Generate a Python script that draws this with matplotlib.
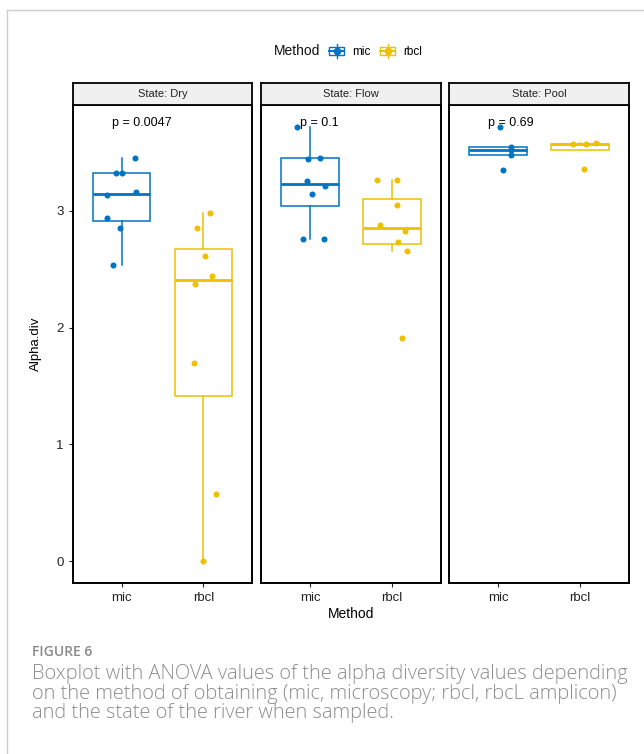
import matplotlib
matplotlib.use("Agg")
import matplotlib.pyplot as plt
from matplotlib.lines import Line2D
from matplotlib.patches import Rectangle
from matplotlib.legend_handler import HandlerBase

plt.rcParams['font.family'] = ['Liberation Sans', 'DejaVu Sans']

# --- data ---
states = ["Dry", "Flow", "Pool"]
methods = ["mic", "rbcl"]
p_labels = ["p = 0.0047", "p = 0.1", "p = 0.69"]

dry_mic = [3.447, 3.325, 3.325, 3.134, 3.157, 2.935, 2.849, 2.531]
dry_rbcl = [2.98, 2.855, 2.61, 2.442, 2.371, 1.697, 0.572, 0.0]
flow_mic = [3.718, 3.444, 3.453, 3.251, 3.211, 3.14, 2.756, 2.756]
flow_rbcl = [3.265, 3.265, 3.049, 2.878, 2.824, 2.736, 2.656, 1.91]
pool_mic = [3.715, 3.545, 3.52, 3.48, 3.348]
pool_rbcl = [3.572, 3.572, 3.575, 3.36]

# horizontal jitter of the points (as drawn)
dry_mic_jit = [0.164, -0.068, 0.008, -0.176, 0.18, -0.176, -0.016, -0.1]
dry_rbcl_jit = [0.08, -0.076, 0.016, 0.104, -0.108, -0.112, 0.156, -0.008]
flow_mic_jit = [-0.159, -0.02, 0.118, -0.037, 0.179, 0.028, -0.085, 0.175]
flow_rbcl_jit = [-0.187, 0.061, 0.061, -0.142, 0.159, 0.077, 0.187, 0.118]
pool_mic_jit = [0.02, 0.154, 0.154, 0.154, 0.065]
pool_rbcl_jit = [-0.081, 0.077, 0.195, 0.049]

values = {
    "Dry": [dry_mic, dry_rbcl],
    "Flow": [flow_mic, flow_rbcl],
    "Pool": [pool_mic, pool_rbcl],
}
jitter = {
    "Dry": [dry_mic_jit, dry_rbcl_jit],
    "Flow": [flow_mic_jit, flow_rbcl_jit],
    "Pool": [pool_mic_jit, pool_rbcl_jit],
}

colors = ["#0073C2", "#EFC000"]

W, H = 644, 754
fig = plt.figure(figsize=(W / 100, H / 100), dpi=100)


def fx(px):
    return px / W


def fy(py):
    return 1 - py / H


# card frame
fig.add_artist(Line2D([fx(7), 1], [fy(10), fy(10)], color="#cccccc", lw=1))
fig.add_artist(Line2D([fx(7), fx(7)], [fy(10), 0], color="#cccccc", lw=1))

panel_left = [72.5, 261, 449]
panel_w = 180
plot_top, plot_bot = 105, 583
strip_top = 82.5

for i, st in enumerate(states):
    ax = fig.add_axes([fx(panel_left[i]), fy(plot_bot), panel_w / W, (plot_bot - plot_top) / H])
    sax = fig.add_axes([fx(panel_left[i]), fy(plot_top), panel_w / W, (plot_top - strip_top) / H])
    sax.set_facecolor("#f0f0f0")
    sax.set_xticks([])
    sax.set_yticks([])
    for sp in sax.spines.values():
        sp.set_linewidth(1.3)
    sax.text(0.5, 0.5, f"State: {st}", ha="center", va="center", fontsize=8, color="#222222",
             transform=sax.transAxes)

    for j, m in enumerate(methods):
        data = values[st][j]
        c = colors[j]
        ax.boxplot(data, positions=[j + 1], widths=0.7, showfliers=False, showcaps=False,
                   patch_artist=True,
                   boxprops=dict(facecolor="white", edgecolor=c, linewidth=1.1),
                   whiskerprops=dict(color=c, linewidth=1.1),
                   medianprops=dict(color=c, linewidth=2.0))
        xs = [j + 1 + d for d in jitter[st][j]]
        ax.scatter(xs, data, s=19, color=c, zorder=3, linewidths=0)

    ax.text(0.88, 3.75, p_labels[i], ha="left", va="center", fontsize=9, color="black")

    ax.set_xlim(0.4, 2.6)
    ax.set_ylim(-0.186, 3.904)
    ax.set_xticks([1, 2])
    ax.set_xticklabels(methods)
    ax.set_yticks([0, 1, 2, 3])
    ax.tick_params(length=3, width=0.8, labelsize=9.5, colors="#222222", pad=3.5)
    if i > 0:
        ax.tick_params(axis="y", left=False, labelleft=False)
    for sp in ax.spines.values():
        sp.set_linewidth(1.4)
    if i == 0:
        ax.set_ylabel("Alpha.div", fontsize=9.5, labelpad=10)
    if i == 1:
        ax.set_xlabel("Method", fontsize=10, labelpad=2.5)


class BoxHandler(HandlerBase):
    def create_artists(self, legend, orig_handle, xdescent, ydescent, width, height, fontsize, trans):
        c = orig_handle.get_color()
        cx = width / 2 - xdescent
        cy = height / 2 - ydescent
        bw, bh = width, height * 0.63
        rect = Rectangle((cx - bw / 2, cy - bh / 2), bw, bh, facecolor="white", edgecolor=c,
                         lw=1.0, transform=trans)
        whisk = Line2D([cx, cx], [cy - height / 2, cy + height / 2], color=c, lw=1.0,
                       transform=trans)
        med = Line2D([cx - bw / 2, cx + bw / 2], [cy, cy], color=c, lw=1.4, transform=trans)
        dot = Line2D([cx], [cy], marker="o", markersize=4.5, color=c, lw=0, transform=trans)
        return [whisk, rect, med, dot]


handles = [Line2D([], [], color=c) for c in colors]
fig.text(fx(274), fy(51), "Method", ha="left", va="center", fontsize=10, color="#111111")
fig.legend(handles, methods, handler_map={Line2D: BoxHandler()}, loc="center left",
           bbox_to_anchor=(fx(329), fy(51)), ncol=2, frameon=False, fontsize=8.5,
           handlelength=1.3, handleheight=1.4, handletextpad=0.7, columnspacing=0.75,
           borderpad=0, borderaxespad=0)

# caption
cap_font = ["Open Sans", "DejaVu Sans"]
fig.text(fx(32), fy(656), "FIGURE 6", ha="left", va="baseline", fontsize=10, color="#8a8a8a",
         family=cap_font, fontweight="semibold")
cap_lines = [
    "Boxplot with ANOVA values of the alpha diversity values depending",
    "on the method of obtaining (mic, microscopy; rbcl, rbcL amplicon)",
    "and the state of the river when sampled.",
]
for k, line in enumerate(cap_lines):
    fig.text(fx(32), fy(679 + 19.5 * k), line, ha="left", va="baseline", fontsize=14.4,
             color="#8c8c8c", family=cap_font, fontweight="light")

fig.savefig("out.png", dpi=100)
